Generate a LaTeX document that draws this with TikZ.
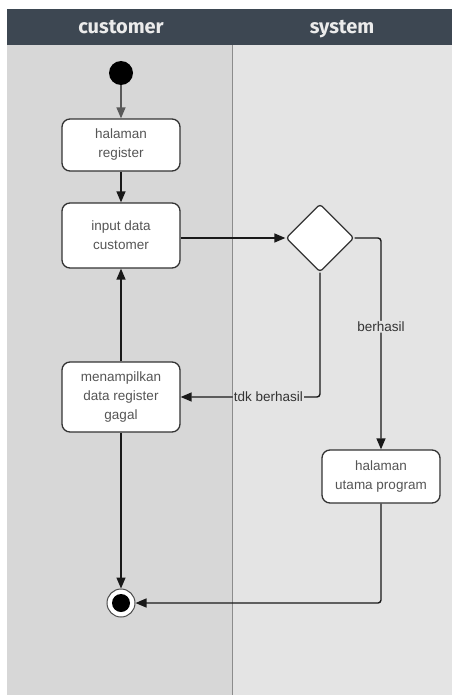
\documentclass[tikz,border=0pt]{standalone}
\usepackage{fontspec}
\setmainfont{Liberation Sans}
\newfontfamily\headfont{Fira Sans}
\usetikzlibrary{arrows.meta,shapes.geometric}
\definecolor{headbg}{HTML}{3D4752}
\definecolor{laneL}{HTML}{D7D7D7}
\definecolor{laneR}{HTML}{E4E4E4}
\definecolor{txt}{HTML}{555555}
\tikzset{
  act/.style={draw=black!80, line width=1.3pt, fill=white, rounded corners=8pt,
    minimum width=118pt, minimum height=52pt, align=center, inner sep=2pt,
    font=\fontsize{13.5}{19}\selectfont, text=txt},
  dec/.style={diamond, draw=black!80, line width=1.3pt, fill=white, rounded corners=3pt,
    minimum width=68pt, minimum height=68pt, inner sep=0pt},
  startnode/.style={circle, fill=black, minimum size=24pt, inner sep=0pt},
  finalnode/.style={circle, draw=black!70, line width=1pt, fill=white,
    minimum size=28pt, inner sep=0pt},
  flow/.style={draw=black!90, line width=1.4pt, rounded corners=3pt,
    -{Triangle[length=11pt,width=9pt]}},
  lbl/.style={fill=laneR, inner sep=1pt, font=\fontsize{13.5}{16}\selectfont, text=black!80},
  lanehead/.style={anchor=base, font=\headfont\bfseries\fontsize{20}{24}\selectfont,
    text=white!92!black},
}
\begin{document}
\begin{tikzpicture}[x=1pt,y=-1pt]
\useasboundingbox (0,0) rectangle (452,695);
% swimlanes
\fill[laneL] (7,45) rectangle (232,695);
\fill[laneR] (232,45) rectangle (452,695);
\fill[headbg] (7,9) rectangle (452,45);
\draw[black!45, line width=0.8pt] (232,45) -- (232,695);
\node[lanehead] (hcust) at (121,34) {customer};
\node[lanehead] (hsys) at (342,34) {system};
% activities
\node[startnode] (st) at (121,73) {};
\node[act] (reg) at (121,145) {halaman\\register};
\node[act, minimum height=65pt] (inp) at (121,235.5) {input data\\customer};
\node[dec] (dec) at (320,238) {};
\node[act, minimum height=70pt] (fail) at (121,397) {menampilkan\\data register\\gagal};
\node[act, minimum height=53pt] (home) at (381,476.5) {halaman\\utama program};
\node[finalnode] (end) at (121,603) {};
\fill[black] (end.center) circle (9pt);
% flows
\draw[flow, draw=black!65] (st) -- (reg);
\draw[flow] (reg) -- (inp);
\draw[flow] (inp.east |- dec.west) -- (dec.west);
\draw[flow] (dec.east) -| node[lbl, pos=0.71] {berhasil} (home.north);
\draw[flow] (dec.south) |- node[lbl, pos=0.685] {tdk berhasil} (fail.east);
\draw[flow] (fail) -- (inp);
\draw[flow] (fail) -- (end);
\draw[flow] (home.south) |- (end);
\end{tikzpicture}
\end{document}
